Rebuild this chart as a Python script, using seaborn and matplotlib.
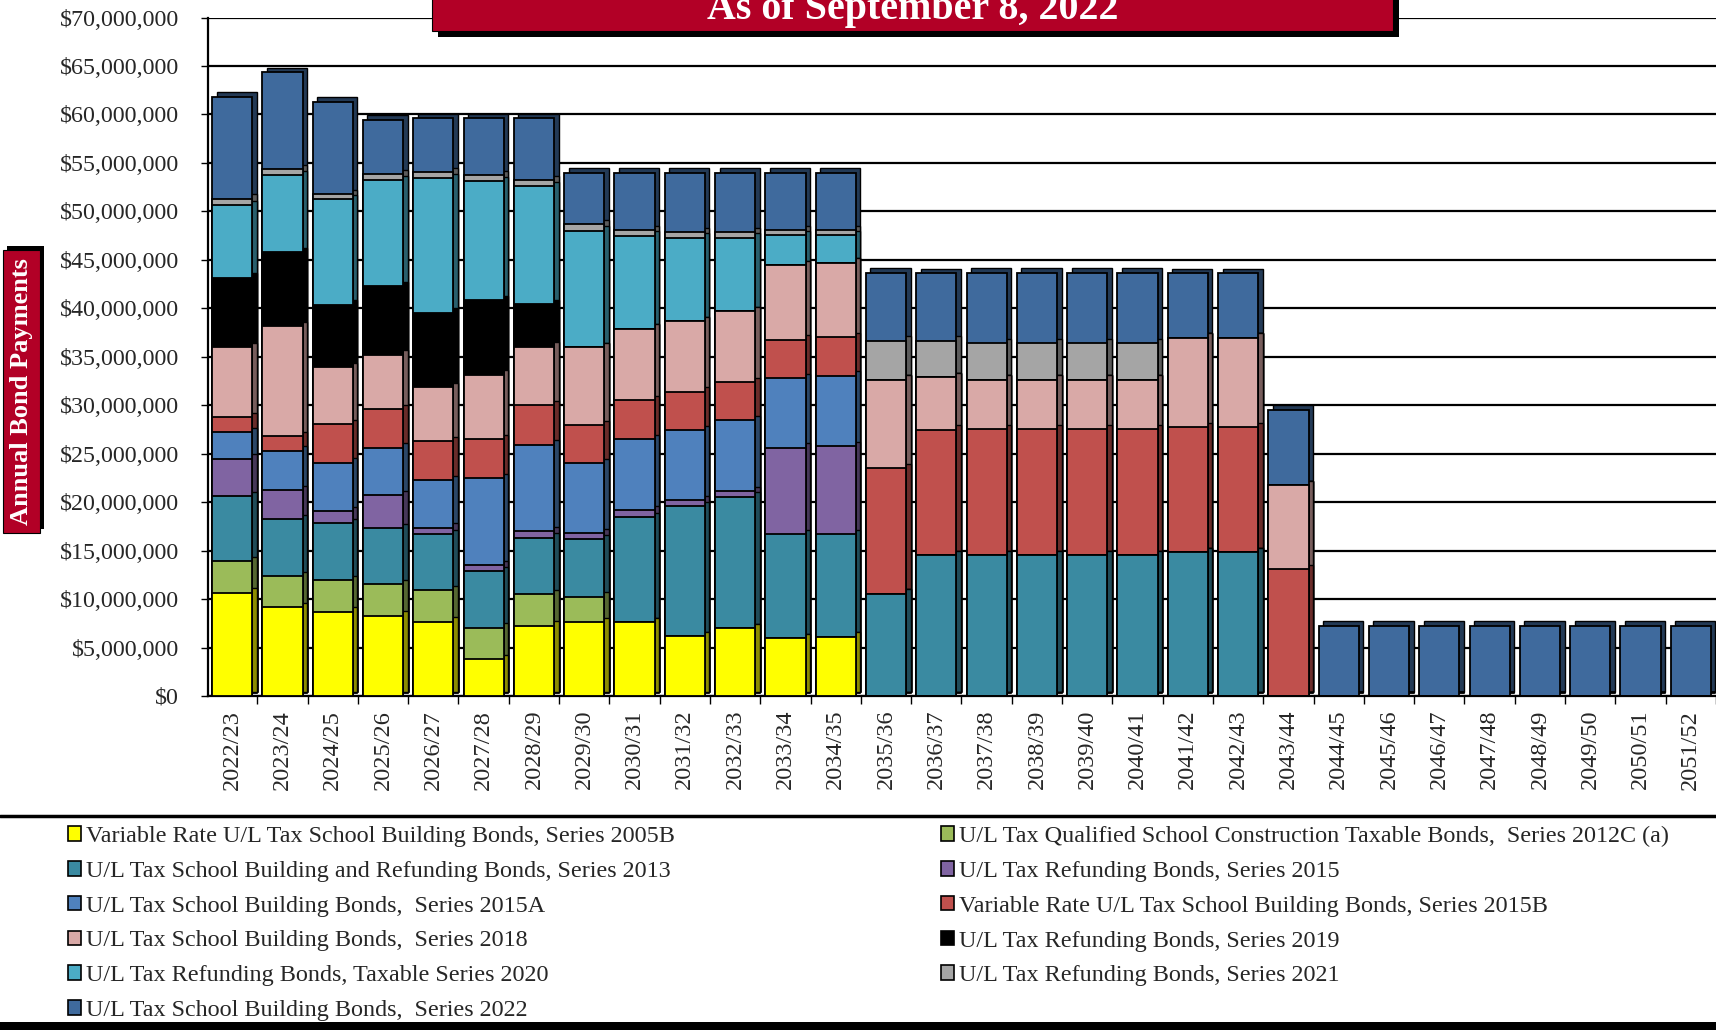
import numpy as np
import pandas as pd
import matplotlib
matplotlib.use("Agg")
import matplotlib.pyplot as plt
import matplotlib.colors as mcolors
from matplotlib.patches import Rectangle, Patch
from matplotlib.lines import Line2D
import seaborn as sns

# fiscal years on the x axis
years = ['2022/23', '2023/24', '2024/25', '2025/26', '2026/27', '2027/28',
         '2028/29', '2029/30', '2030/31', '2031/32', '2032/33', '2033/34',
         '2034/35', '2035/36', '2036/37', '2037/38', '2038/39', '2039/40',
         '2040/41', '2041/42', '2042/43', '2043/44', '2044/45', '2045/46',
         '2046/47', '2047/48', '2048/49', '2049/50', '2050/51', '2051/52']

# annual payments per bond series, in $ millions (bottom of stack first)
s2005B = [10.64, 9.18, 8.69, 8.28, 7.67, 3.79, 7.26, 7.60, 7.60, 6.15, 7.00, 5.98, 6.10] + [0] * 17
s2012C = [3.26, 3.18, 3.26, 3.26, 3.26, 3.27, 3.26, 2.65] + [0] * 22
s2013 = [6.70, 5.91, 5.91, 5.79, 5.79, 5.79, 5.83, 5.90, 10.85, 13.40, 13.55, 10.72, 10.60,
         10.55, 14.55, 14.55, 14.55, 14.55, 14.55, 14.85, 14.85] + [0] * 9
s2015 = [3.87, 2.93, 1.22, 3.39, 0.65, 0.65, 0.65, 0.65, 0.75, 0.63, 0.60, 8.90, 9.08] + [0] * 17
s2015A = [2.77, 4.12, 4.98, 4.89, 4.90, 8.97, 8.94, 7.20, 7.30, 7.25, 7.28, 7.17, 7.28] + [0] * 17
s2015B = [1.51, 1.51, 4.00, 4.00, 4.04, 4.04, 4.04, 3.95, 4.00, 3.95, 3.95, 3.99, 3.96,
          12.97, 12.94, 12.97, 12.97, 12.97, 12.97, 12.91, 12.91, 13.08] + [0] * 8
s2018 = [7.22, 11.34, 5.83, 5.59, 5.54, 6.65, 6.07, 8.05, 7.40, 7.28, 7.32, 7.68, 7.68,
         9.12, 5.40, 5.12, 5.12, 5.12, 5.12, 9.22, 9.22, 8.67] + [0] * 8
s2019 = [7.18, 7.63, 6.49, 7.05, 7.71, 7.70, 4.37] + [0] * 23
s2020 = [7.50, 7.95, 10.85, 10.97, 13.87, 12.28, 12.19, 12.00, 9.60, 8.62, 7.58, 3.10, 2.84] + [0] * 17
s2021 = [0.65, 0.61, 0.57, 0.61, 0.61, 0.61, 0.61, 0.65, 0.55, 0.55, 0.55, 0.50, 0.50,
         4.03, 3.75, 3.76, 3.76, 3.76, 3.76] + [0] * 11
s2022 = [10.53, 10.00, 9.50, 5.63, 5.58, 5.87, 6.40, 5.35, 5.95, 6.17, 6.17, 5.96, 5.96,
         7.00, 7.00, 7.27, 7.27, 7.27, 7.27, 6.66, 6.66, 7.77] + [7.26] * 8

series_names = [
    'Variable Rate U/L Tax School Building Bonds, Series 2005B',
    'U/L Tax Qualified School Construction Taxable Bonds,  Series 2012C (a)',
    'U/L Tax School Building and Refunding Bonds, Series 2013',
    'U/L Tax Refunding Bonds, Series 2015',
    'U/L Tax School Building Bonds,  Series 2015A',
    'Variable Rate U/L Tax School Building Bonds, Series 2015B',
    'U/L Tax School Building Bonds,  Series 2018',
    'U/L Tax Refunding Bonds, Series 2019',
    'U/L Tax Refunding Bonds, Taxable Series 2020',
    'U/L Tax Refunding Bonds, Series 2021',
    'U/L Tax School Building Bonds,  Series 2022',
]
series_vals = [s2005B, s2012C, s2013, s2015, s2015A, s2015B, s2018, s2019, s2020, s2021, s2022]
colors = ['#FFFF00', '#9BBB59', '#3A8AA1', '#8064A2', '#4F81BD', '#C0504D',
          '#D9A9A7', '#000000', '#4BACC6', '#A5A5A5', '#3F6A9D']

df = pd.DataFrame({n: np.array(v) * 1e6 for n, v in zip(series_names, series_vals)}, index=years)
cum = df.cumsum(axis=1)

sns.set_theme(style="white")
plt.rcParams['font.family'] = ['Liberation Serif', 'DejaVu Serif']

fig = plt.figure(figsize=(17.16, 10.30), dpi=100)
ax = fig.add_axes([0.1212, 0.3243, 0.8788, 0.6587])

xs = np.arange(len(years))
dx, dy = 0.09, 0.45e6

def darker(c, f=0.55):
    r, g, b = mcolors.to_rgb(c)
    return (r * f, g * f, b * f)

# depth faces behind the bars (fake 3D look)
for k in range(len(series_names) - 1, -1, -1):
    h = cum.iloc[:, k].values
    ax.bar(xs + dx, h, bottom=dy, width=0.8, color=darker(colors[k]),
           edgecolor='black', linewidth=1.0, zorder=2)

# front faces: cumulative totals drawn tallest first -> stacked look
for k in range(len(series_names) - 1, -1, -1):
    sns.barplot(x=years, y=cum.iloc[:, k].values, color=colors[k], saturation=1,
                edgecolor='black', linewidth=1.3, width=0.8, errorbar=None,
                ax=ax, zorder=3)

ax.set_xlim(-0.48, 29.46)
ax.set_ylim(0, 70e6)
ax.set_yticks(np.arange(0, 70e6 + 1, 5e6))
ax.set_yticklabels(['${:,.0f}'.format(v) for v in np.arange(0, 70e6 + 1, 5e6)], fontsize=17.3)
ax.yaxis.grid(True, color='black', linewidth=1.6, zorder=0)
ax.set_axisbelow(True)

ax.set_xticks(xs + 0.5)
ax.set_xticklabels([])
ax.set_xticks(xs, minor=True)
ax.set_xticklabels(years, minor=True, rotation=90, fontsize=17.5)
ax.tick_params(axis='x', which='major', direction='out', length=6, width=1, color='black', bottom=True)
ax.tick_params(axis='x', which='minor', length=0, pad=10)
ax.tick_params(axis='y', direction='out', length=5, width=1, color='black', left=True, pad=16)
ax.set_xlabel('')
ax.set_ylabel('')

for side in ['top', 'right']:
    ax.spines[side].set_visible(False)
for side in ['left', 'bottom']:
    ax.spines[side].set_color('black')
    ax.spines[side].set_linewidth(1.6)

# title banner (cut off at top like the slide crop)
fig.add_artist(Rectangle((0.2552, 0.964), 0.5601, 0.1, transform=fig.transFigure,
                         facecolor='black', edgecolor='none', zorder=5))
fig.add_artist(Rectangle((0.2517, 0.970), 0.5601, 0.1, transform=fig.transFigure,
                         facecolor='#B20026', edgecolor='black', linewidth=0.8, zorder=6))
fig.text(0.5317, 0.9816, 'As of September 8, 2022', color='white', fontsize=28.8,
         fontweight='bold', ha='center', va='baseline', zorder=7)

# y axis label banner
fig.add_artist(Rectangle((0.0041, 0.4864), 0.0216, 0.2748, transform=fig.transFigure,
                         facecolor='black', edgecolor='none', zorder=5))
fig.add_artist(Rectangle((0.0017, 0.4825), 0.0216, 0.2748, transform=fig.transFigure,
                         facecolor='#B20026', edgecolor='black', linewidth=0.8, zorder=6))
fig.text(0.0125, 0.620, 'Annual Bond Payments', color='white', fontsize=19,
         fontweight='bold', rotation=90, ha='center', va='center', zorder=7)

# legend area
fig.add_artist(Line2D([0, 1], [0.2078, 0.2078], transform=fig.transFigure, color='black', linewidth=2.5))
fig.add_artist(Rectangle((0, 0), 1, 0.0078, transform=fig.transFigure,
                         facecolor='black', edgecolor='none'))

handles = [Patch(facecolor=c, edgecolor='black', linewidth=1.2) for c in colors]
left_idx = [0, 2, 4, 6, 8, 10]
right_idx = [1, 3, 5, 7, 9]
leg_kw = dict(loc='upper left', frameon=False, fontsize=17.4, handlelength=0.55,
              handleheight=0.55, handletextpad=0.2, labelspacing=0.57,
              borderpad=0, borderaxespad=0)
fig.legend([handles[i] for i in left_idx], [series_names[i] for i in left_idx],
           bbox_to_anchor=(0.0396, 0.1980), **leg_kw)
fig.legend([handles[i] for i in right_idx], [series_names[i] for i in right_idx],
           bbox_to_anchor=(0.5484, 0.1980), **leg_kw)

fig.savefig('out.png', dpi=100)
